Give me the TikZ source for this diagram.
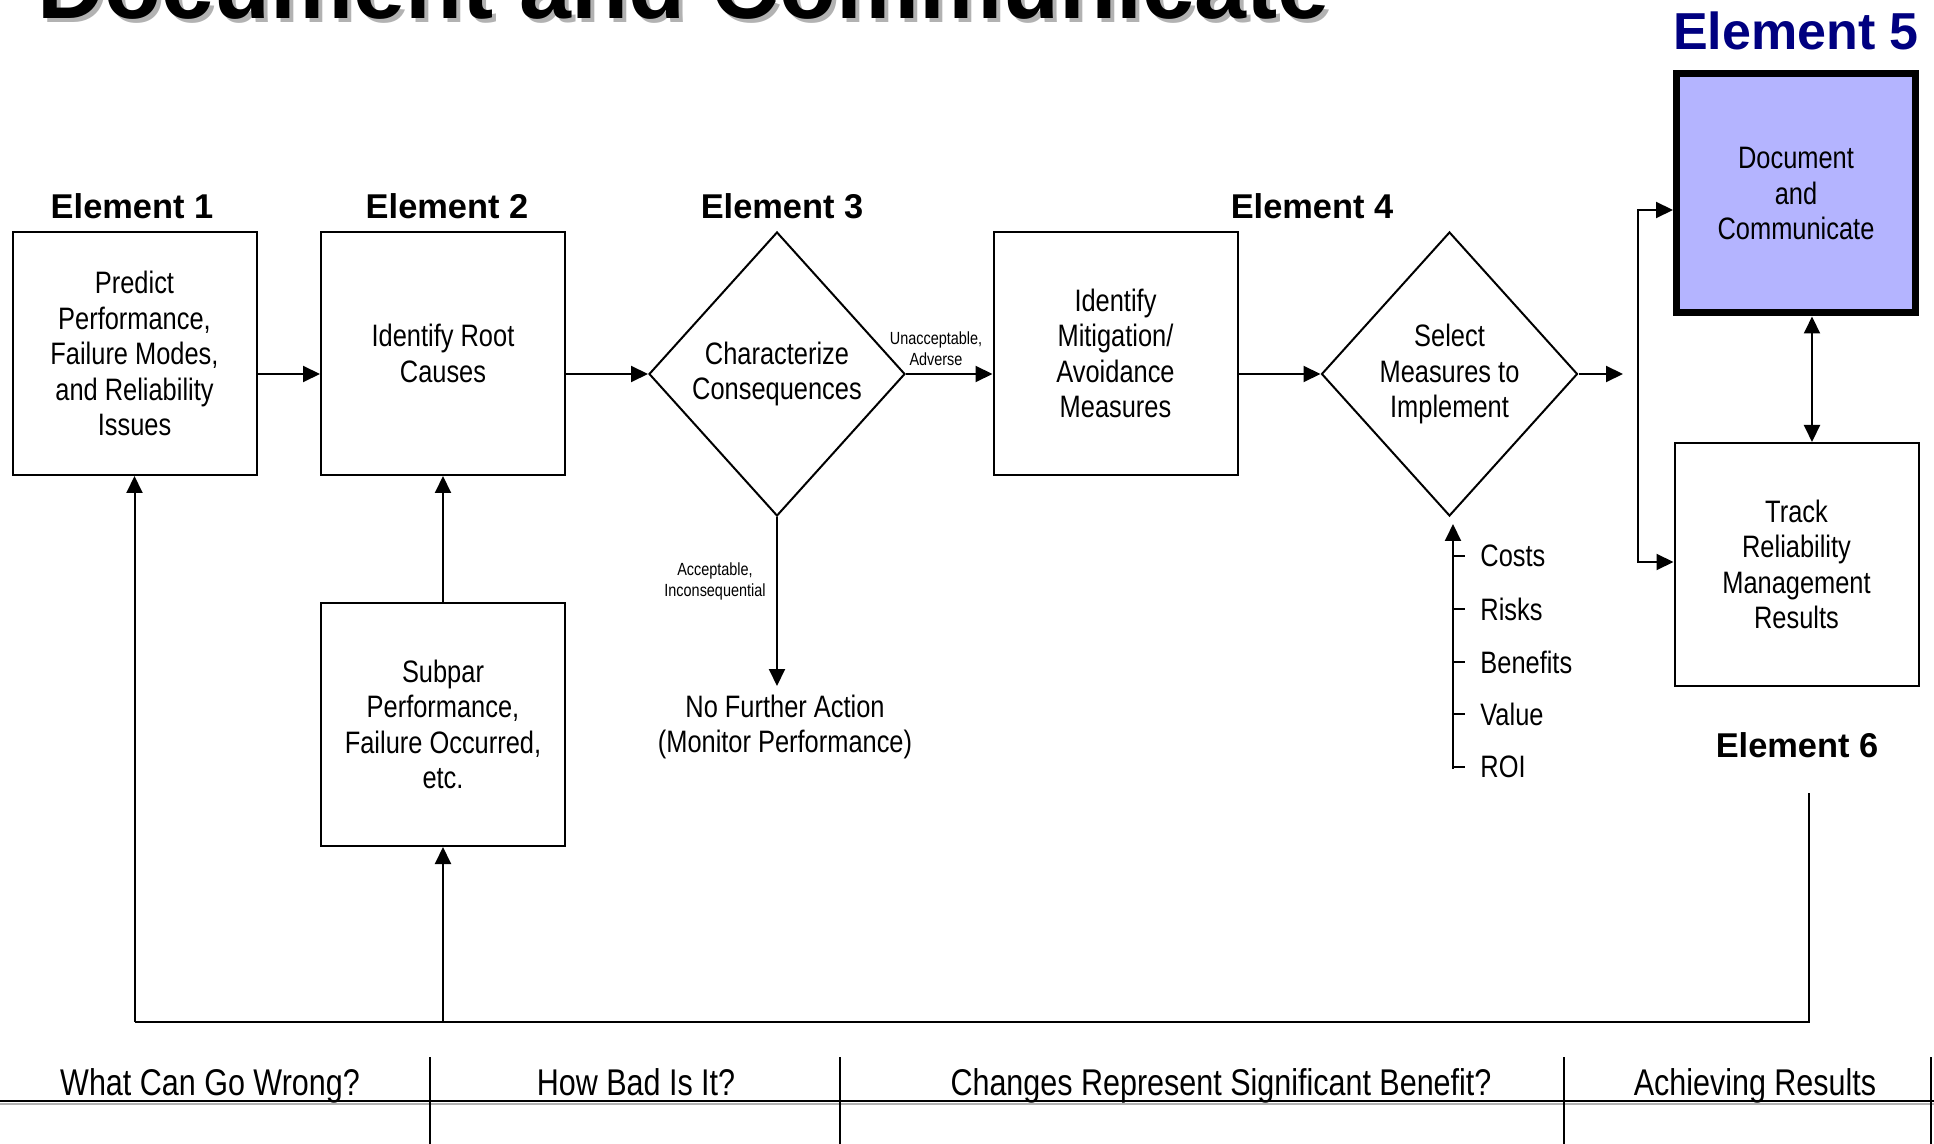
\documentclass[tikz,border=0pt]{standalone}
\usepackage{fontspec}
\setmainfont{Liberation Sans}
\newfontfamily\narrow[FakeStretch=0.82]{Liberation Sans}
\usetikzlibrary{arrows.meta,shapes.geometric,calc}

\definecolor{docfill}{RGB}{180,180,255}
\definecolor{navyblue}{RGB}{0,0,128}
\definecolor{shadowgray}{RGB}{178,178,178}

\newcommand{\bxfont}{\narrow\fontsize{15.5}{17.75}\selectfont}
\newcommand{\smallfont}{\narrow\fontsize{8.8}{10.5}\selectfont}
\newcommand{\elfont}{\bfseries\fontsize{17.2}{20}\selectfont}
\newcommand{\rowfont}{\narrow\fontsize{18.6}{21}\selectfont}

\tikzset{
  box/.style={draw, line width=1pt, minimum width=122pt, minimum height=121.5pt,
    inner sep=0pt, align=center, font=\bxfont},
  dia/.style={draw, shape=diamond, line width=1pt, minimum width=128pt,
    minimum height=142pt, inner sep=0pt, align=center, font=\bxfont},
  arr/.style={line width=1pt, -{Triangle[length=8.5pt,width=8pt]}},
  dblarr/.style={line width=1pt, {Triangle[length=8.5pt,width=8pt]}-{Triangle[length=8.5pt,width=8pt]}},
  line/.style={line width=1pt},
  elab/.style={font=\elfont, inner sep=0pt},
  note/.style={font=\smallfont, align=center, inner sep=0pt},
  item/.style={font=\bxfont, anchor=west, inner sep=0pt},
  rowlab/.style={font=\rowfont, anchor=base, inner sep=0pt},
}

\begin{document}
\begin{tikzpicture}[x=0.5pt, y=-0.5pt]
\useasboundingbox (0,0) rectangle (1934,1144);
\clip (0,0) rectangle (1934,1144);

% heading, cut by the top edge, with its drop shadow
\node[anchor=base west, inner sep=0pt, text=shadowgray,
      font=\bfseries\fontsize{46.7}{50}\selectfont] (titleshadow) at (41,23) {Document and Communicate};
\node[anchor=base west, inner sep=0pt,
      font=\bfseries\fontsize{46.7}{50}\selectfont] (title) at (37,19) {Document and Communicate};

% process boxes
\node[box] (e1) at (134.5,353.5) {Predict\\Performance,\\Failure Modes,\\and Reliability\\Issues};
\node[box] (e2) at (443,353.5) {Identify Root\\Causes};
\node[dia] (d3) at (777,374) {Characterize\\Consequences};
\node[box] (e4) at (1115.5,353.5) {Identify\\Mitigation/\\Avoidance\\Measures};
\node[dia] (d4) at (1449.5,374) {Select\\Measures to\\Implement};
\node[box, line width=3.5pt, fill=docfill, minimum width=119.5pt, minimum height=119.5pt] (e5) at (1796,193.5) {Document\\and\\Communicate};
\node[box] (e6) at (1796.5,564.5) {Track\\Reliability\\Management\\Results};
\node[box] (sub) at (443,724.5) {Subpar\\Performance,\\Failure Occurred,\\etc.};

% element headings
\node[elab] (l1) at (132,206) {Element 1};
\node[elab] (l2) at (447,206) {Element 2};
\node[elab] (l3) at (782,206) {Element 3};
\node[elab] (l4) at (1312,206) {Element 4};
\node[elab, text=navyblue, font=\bfseries\fontsize{26}{30}\selectfont] (l5) at (1796,31) {Element 5};
\node[elab] (l6) at (1797,745) {Element 6};

% main flow
\coordinate (axis) at (0,374);
\draw[arr] (e1.east |- axis) -- (e2.west |- axis);
\draw[arr] (e2.east |- axis) -- (d3.west);
\draw[arr] (d3.east) -- (e4.west |- axis);
\node[note] (unacc) at (936,349) {Unacceptable,\\Adverse};
\draw[arr] (e4.east |- axis) -- (d4.west);
\coordinate (d4out) at (1623,374);
\draw[arr] (d4.east) -- (d4out);

% branch to elements 5 and 6
\coordinate (b1) at (1638,210);
\coordinate (b2) at (1638,562);
\draw[dblarr] (b1 -| e5.west) -- (b1) -- (b2) -- (b2 -| e6.west);
\coordinate (v56) at (1812,0);
\draw[dblarr] (e5.south -| v56) -- (e6.north -| v56);

% acceptable outcome
\node[font=\bxfont, align=center, inner sep=0pt] (nfa) at (785,727) {No Further Action\\(Monitor Performance)};
\coordinate (nfatop) at (779,686);
\draw[arr] (d3.south) -- (d3.south |- nfatop);
\node[note] (acc) at (715,581) {Acceptable,\\Inconsequential};

% selection criteria
\coordinate (costbase) at (1453,769);
\coordinate (costtip) at (1453,524);
\draw[arr] (costbase) -- (costtip);
\foreach \yy/\name/\txt in {556/c1/Costs, 609/c2/Risks, 662/c3/Benefits, 714/c4/Value, 767/c5/ROI}{
  \coordinate (t\name) at (1453,\yy);
  \draw[line] (t\name) -- ++(12,0);
  \node[item] (\name) at (1480,\yy) {\txt};
}

% feedback loop
\coordinate (fbstart) at (1809,793);
\coordinate (fbrow) at (0,1022);
\draw[line] (fbstart) -- (fbstart |- fbrow) -- (e1.south |- fbrow);
\draw[arr] (e1.south |- fbrow) -- (e1.south);
\draw[arr] (sub.south |- fbrow) -- (sub.south);
\draw[arr] (sub.north) -- (e2.south);

% bottom row of questions
\draw[line width=1.1pt, shadowgray] (0,1104) -- (1934,1104);
\draw[line width=1.1pt] (0,1101) -- (1934,1101);
\foreach \xx in {430,840,1564,1931}{
  \draw[line] (\xx,1057) -- (\xx,1144);
}
\node[rowlab] (q1) at (210,1095) {What Can Go Wrong?};
\node[rowlab] (q2) at (636,1095) {How Bad Is It?};
\node[rowlab] (q3) at (1221,1095) {Changes Represent Significant Benefit?};
\node[rowlab] (q4) at (1755,1095) {Achieving Results};
\end{tikzpicture}
\end{document}
